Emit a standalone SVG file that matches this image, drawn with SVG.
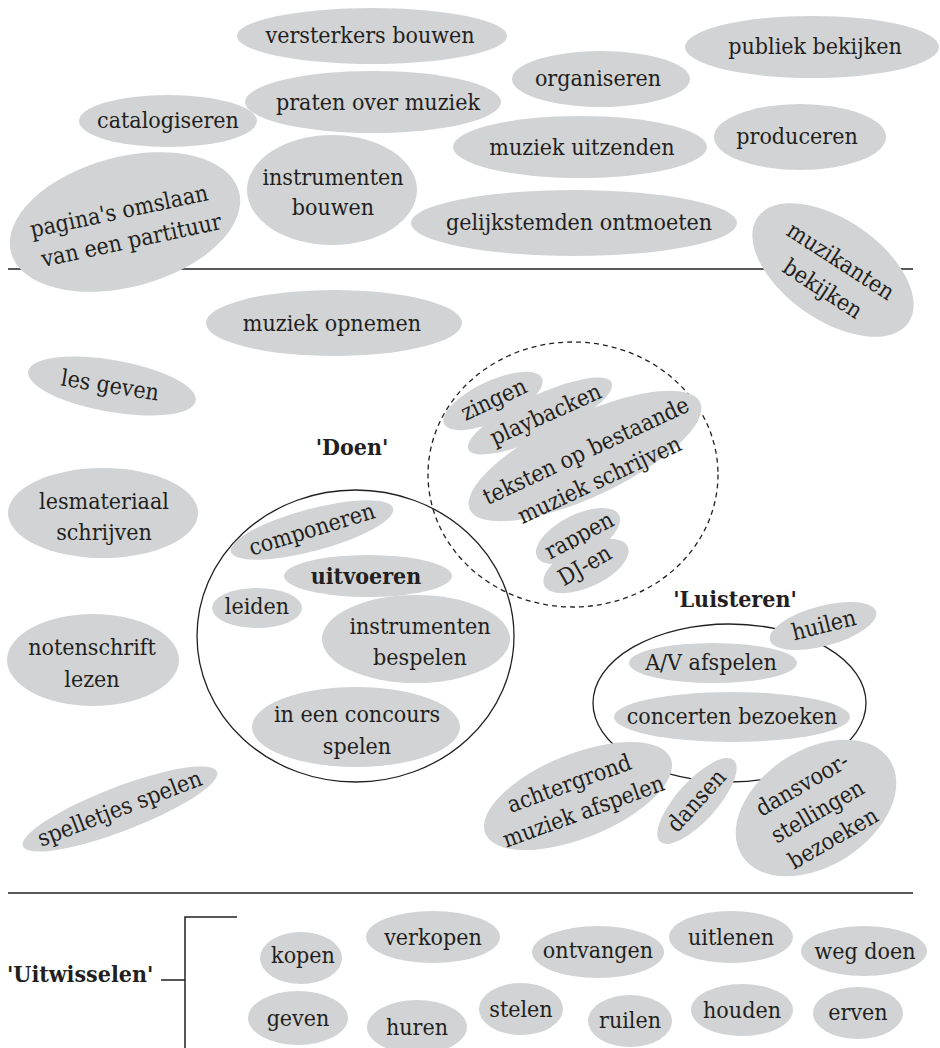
<svg xmlns="http://www.w3.org/2000/svg" width="940" height="1048" viewBox="0 0 940 1048">
<style>
.n{fill:#d1d3d4}
.t{font-family:"DejaVu Serif Condensed","DejaVu Serif","Liberation Serif",serif;font-stretch:condensed;font-size:23px;fill:#231f20;text-anchor:middle}
.b{font-weight:bold}
.ln{stroke:#231f20;fill:none;stroke-width:1.5}
.c{stroke:#231f20;fill:none;stroke-width:1.3}
.d{stroke:#231f20;fill:none;stroke-width:1.3;stroke-dasharray:5 4}
</style>
<rect width="940" height="1048" fill="#fff"/>
<g id="connectors">
<line class="ln" x1="8" y1="269" x2="913" y2="269"/>
<line class="ln" x1="8" y1="893" x2="913" y2="893"/>
<path class="ln" d="M237,917 H185 V1048 M161,980 H185"/>
<ellipse id="doen-circle" class="c" cx="355.5" cy="636" rx="158.5" ry="146"/>
<ellipse id="dashed-circle" class="d" cx="573" cy="474.5" rx="145" ry="132.5"/>
<ellipse id="luisteren-circle" class="c" cx="729.5" cy="703" rx="136.5" ry="79" stroke-width="1"/>
</g>
<g id="labels">
<text class="t b" x="352" y="455">'Doen'</text>
<text class="t b" x="735" y="607">'Luisteren'</text>
<text class="t b" x="7" y="982" style="text-anchor:start">'Uitwisselen'</text>
</g>
<g id="n-versterkers"><ellipse class="n" cx="372" cy="36" rx="135" ry="28"/><text class="t" x="370" y="43">versterkers bouwen</text></g>
<g id="n-publiek"><ellipse class="n" cx="812" cy="47" rx="127" ry="31"/><text class="t" x="815" y="54">publiek bekijken</text></g>
<g id="n-organiseren"><ellipse class="n" cx="601" cy="79" rx="89" ry="28"/><text class="t" x="598" y="86">organiseren</text></g>
<g id="n-praten"><ellipse class="n" cx="373" cy="102" rx="128" ry="31"/><text class="t" x="378" y="110">praten over muziek</text></g>
<g id="n-catalogiseren"><ellipse class="n" cx="168" cy="121" rx="89" ry="26"/><text class="t" x="168" y="128">catalogiseren</text></g>
<g id="n-uitzenden"><ellipse class="n" cx="580" cy="147" rx="127" ry="31"/><text class="t" x="582" y="155">muziek uitzenden</text></g>
<g id="n-produceren"><ellipse class="n" cx="800" cy="137" rx="86" ry="33"/><text class="t" x="797" y="144">produceren</text></g>
<g id="n-instr-bouwen"><ellipse class="n" cx="332" cy="190" rx="85" ry="55"/><text class="t" x="333" y="185">instrumenten</text><text class="t" x="333" y="215">bouwen</text></g>
<g id="n-pagina"><ellipse class="n" cx="125" cy="222" rx="118" ry="65" transform="rotate(-15 125 222)"/><g transform="rotate(-12 125 225)"><text class="t" x="122" y="218">pagina's omslaan</text><text class="t" x="128" y="249">van een partituur</text></g></g>
<g id="n-gelijkstemden"><ellipse class="n" cx="574" cy="223" rx="163" ry="33"/><text class="t" x="579" y="230">gelijkstemden ontmoeten</text></g>
<g id="n-muzikanten"><ellipse class="n" cx="833" cy="270" rx="92" ry="50" transform="rotate(35 833 270)"/><g transform="rotate(33 831 276)"><text class="t" x="831" y="266">muzikanten</text><text class="t" x="831" y="299">bekijken</text></g></g>
<g id="n-opnemen"><ellipse class="n" cx="334" cy="323" rx="128" ry="33"/><text class="t" x="332" y="331">muziek opnemen</text></g>
<g id="n-lesgeven"><ellipse class="n" cx="112" cy="386" rx="85" ry="26" transform="rotate(10 112 386)"/><text class="t" x="110" y="393" transform="rotate(9 110 386)">les geven</text></g>
<g id="n-lesmateriaal"><ellipse class="n" cx="103" cy="513" rx="95" ry="45"/><text class="t" x="104" y="509">lesmateriaal</text><text class="t" x="104" y="540">schrijven</text></g>
<g id="n-notenschrift"><ellipse class="n" cx="93" cy="660" rx="86" ry="46"/><text class="t" x="92" y="655">notenschrift</text><text class="t" x="92" y="687">lezen</text></g>
<g id="n-spelletjes"><ellipse class="n" cx="120" cy="809" rx="104" ry="22" transform="rotate(-21 120 809)"/><text class="t" x="120" y="816" transform="rotate(-21 120 809)">spelletjes spelen</text></g>
<g id="n-componeren"><ellipse class="n" cx="312" cy="530" rx="84" ry="21" transform="rotate(-15 312 530)"/><text class="t" x="312" y="537" transform="rotate(-17 312 530)">componeren</text></g>
<g id="n-uitvoeren"><ellipse class="n" cx="368" cy="576" rx="84" ry="21"/><text class="t b" x="366" y="584">uitvoeren</text></g>
<g id="n-leiden"><ellipse class="n" cx="257" cy="608" rx="45" ry="20"/><text class="t" x="257" y="614">leiden</text></g>
<g id="n-bespelen"><ellipse class="n" cx="416" cy="639" rx="94" ry="44"/><text class="t" x="420" y="634">instrumenten</text><text class="t" x="420" y="665">bespelen</text></g>
<g id="n-concours"><ellipse class="n" cx="356" cy="727" rx="104" ry="40"/><text class="t" x="357" y="722">in een concours</text><text class="t" x="357" y="754">spelen</text></g>
<g id="n-zingen"><ellipse class="n" cx="493" cy="401" rx="54" ry="20" transform="rotate(-25 493 401)"/><text class="t" x="494" y="407" transform="rotate(-25 494 400)">zingen</text></g>
<g id="n-playbacken"><ellipse class="n" cx="540" cy="416" rx="79" ry="21" transform="rotate(-25 540 416)"/><text class="t" x="546" y="422" transform="rotate(-24 546 415)">playbacken</text></g>
<g id="n-teksten"><ellipse class="n" cx="585" cy="456" rx="127" ry="41" transform="rotate(-25 585 456)"/><g transform="rotate(-25 593 466)"><text class="t" x="593" y="457">teksten op bestaande</text><text class="t" x="593" y="489">muziek schrijven</text></g></g>
<g id="n-rappen"><ellipse class="n" cx="578" cy="536" rx="46" ry="21" transform="rotate(-27 578 536)"/><text class="t" x="580" y="543" transform="rotate(-28 580 537)">rappen</text></g>
<g id="n-djen"><ellipse class="n" cx="586" cy="566" rx="46" ry="21" transform="rotate(-25 586 566)"/><text class="t" x="585" y="573" transform="rotate(-30 585 566)">DJ-en</text></g>
<g id="n-huilen"><ellipse class="n" cx="823" cy="626" rx="55" ry="20" transform="rotate(-15 823 626)"/><text class="t" x="824" y="633" transform="rotate(-14 823 626)">huilen</text></g>
<g id="n-av"><ellipse class="n" cx="713" cy="663" rx="84" ry="20"/><text class="t" x="711" y="670">A/V afspelen</text></g>
<g id="n-concerten"><ellipse class="n" cx="732" cy="717" rx="118" ry="25"/><text class="t" x="732" y="724">concerten bezoeken</text></g>
<g id="n-achtergrond"><ellipse class="n" cx="578" cy="796" rx="100" ry="42" transform="rotate(-22 578 796)"/><g transform="rotate(-20 578 796)"><text class="t" x="574" y="789">achtergrond</text><text class="t" x="578" y="820">muziek afspelen</text></g></g>
<g id="n-dansen"><ellipse class="n" cx="697" cy="801" rx="55" ry="20" transform="rotate(-48 697 801)"/><text class="t" x="697" y="808" transform="rotate(-48 697 801)">dansen</text></g>
<g id="n-dansvoorstellingen"><ellipse class="n" cx="816" cy="808" rx="88" ry="58" transform="rotate(-33 816 808)"/><g transform="rotate(-30 818 812)"><text class="t" x="818" y="788">dansvoor-</text><text class="t" x="818" y="819">stellingen</text><text class="t" x="818" y="850">bezoeken</text></g></g>
<g id="n-kopen"><ellipse class="n" cx="301" cy="958" rx="41" ry="26"/><text class="t" x="303" y="963">kopen</text></g>
<g id="n-verkopen"><ellipse class="n" cx="433" cy="937" rx="67" ry="26"/><text class="t" x="433" y="945">verkopen</text></g>
<g id="n-ontvangen"><ellipse class="n" cx="598" cy="952" rx="66" ry="26"/><text class="t" x="598" y="958">ontvangen</text></g>
<g id="n-uitlenen"><ellipse class="n" cx="731" cy="937" rx="62" ry="26"/><text class="t" x="731" y="945">uitlenen</text></g>
<g id="n-wegdoen"><ellipse class="n" cx="864" cy="951" rx="63" ry="25"/><text class="t" x="865" y="959">weg doen</text></g>
<g id="n-geven"><ellipse class="n" cx="298" cy="1018" rx="50" ry="27"/><text class="t" x="298" y="1026">geven</text></g>
<g id="n-huren"><ellipse class="n" cx="417" cy="1027" rx="50" ry="27"/><text class="t" x="417" y="1035">huren</text></g>
<g id="n-stelen"><ellipse class="n" cx="521" cy="1009" rx="42" ry="26"/><text class="t" x="521" y="1017">stelen</text></g>
<g id="n-ruilen"><ellipse class="n" cx="630" cy="1021" rx="42" ry="26"/><text class="t" x="630" y="1028">ruilen</text></g>
<g id="n-houden"><ellipse class="n" cx="742" cy="1010" rx="51" ry="26"/><text class="t" x="742" y="1018">houden</text></g>
<g id="n-erven"><ellipse class="n" cx="858" cy="1013" rx="45" ry="26"/><text class="t" x="858" y="1020">erven</text></g>
</svg>
